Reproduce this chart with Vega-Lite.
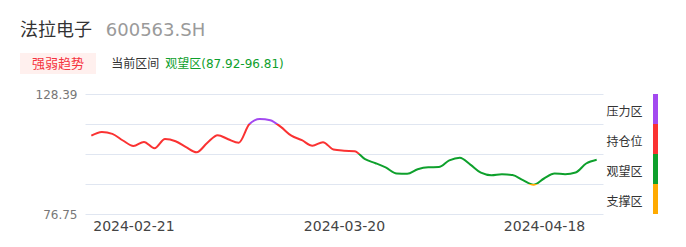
{
  "$schema": "https://vega.github.io/schema/vega-lite/v6.json",
  "padding": {"left": 20, "top": 17, "right": 5, "bottom": 5},
  "background": "white",
  "config": {
    "view": {"stroke": null},
    "font": "DejaVu Sans, Noto Sans CJK SC, sans-serif"
  },
  "spacing": 14,
  "vconcat": [
    {
      "spacing": 12,
      "vconcat": [
        {
          "bounds": "flush",
          "spacing": 14,
          "hconcat": [
            {
              "width": 72, "height": 24,
              "data": {"values": [{"t": "法拉电子"}]},
              "mark": {"type": "text", "fontSize": 18, "color": "#333333", "dx": -65, "dy": 2},
              "encoding": {"text": {"field": "t"}}
            },
            {
              "width": 99, "height": 24,
              "data": {"values": [{"t": "600563.SH"}]},
              "mark": {"type": "text", "fontSize": 18, "color": "#9a9a9a", "dx": -65, "dy": 2},
              "encoding": {"text": {"field": "t"}}
            }
          ]
        },
        {
          "bounds": "flush",
          "spacing": 15,
          "hconcat": [
            {
              "width": 76, "height": 21,
              "data": {"values": [{"t": "强弱趋势"}]},
              "layer": [
                {
                  "mark": {"type": "rect", "color": "#fff0ee", "xOffset": -65, "x2Offset": -65},
                  "encoding": {
                    "x": {"datum": 0, "type": "quantitative", "scale": {"domain": [0, 1]}, "axis": null},
                    "x2": {"datum": 1},
                    "y": {"datum": 0, "type": "quantitative", "scale": {"domain": [0, 1]}, "axis": null},
                    "y2": {"datum": 1}
                  }
                },
                {
                  "mark": {"type": "text", "fontSize": 13, "color": "#f5333f", "dx": -65},
                  "encoding": {"text": {"field": "t"}}
                }
              ]
            },
            {
              "width": 48.6, "height": 21,
              "data": {"values": [{"t": "当前区间"}]},
              "mark": {"type": "text", "fontSize": 12, "color": "#333333", "dx": -65},
              "encoding": {"text": {"field": "t"}}
            },
            {
              "width": 99, "height": 21,
              "data": {"values": [{"t": "观望区(87.92-96.81)"}]},
              "mark": {"type": "text", "fontSize": 12, "color": "#0ea02c", "dx": -65},
              "encoding": {"text": {"field": "t"}}
            }
          ]
        }
      ]
    },
    {
      "spacing": 0,
      "hconcat": [
        {
          "width": 518,
          "height": 120,
          "data": {
            "values": [
              {"date": "2024-02-07", "close": 110.44},
              {"date": "2024-02-08", "close": 112.04},
              {"date": "2024-02-19", "close": 111.22},
              {"date": "2024-02-20", "close": 108.38},
              {"date": "2024-02-21", "close": 106.01},
              {"date": "2024-02-22", "close": 107.78},
              {"date": "2024-02-23", "close": 105.02},
              {"date": "2024-02-26", "close": 109.03},
              {"date": "2024-02-27", "close": 108.08},
              {"date": "2024-02-28", "close": 105.50},
              {"date": "2024-02-29", "close": 103.30},
              {"date": "2024-03-01", "close": 107.30},
              {"date": "2024-03-04", "close": 110.66},
              {"date": "2024-03-05", "close": 108.94},
              {"date": "2024-03-06", "close": 107.43},
              {"date": "2024-03-07", "close": 115.35},
              {"date": "2024-03-08", "close": 117.68},
              {"date": "2024-03-11", "close": 117.12},
              {"date": "2024-03-12", "close": 114.23},
              {"date": "2024-03-13", "close": 110.44},
              {"date": "2024-03-14", "close": 108.51},
              {"date": "2024-03-15", "close": 106.14},
              {"date": "2024-03-18", "close": 107.65},
              {"date": "2024-03-19", "close": 104.51},
              {"date": "2024-03-20", "close": 103.99},
              {"date": "2024-03-21", "close": 103.78},
              {"date": "2024-03-22", "close": 100.33},
              {"date": "2024-03-25", "close": 98.61},
              {"date": "2024-03-26", "close": 96.67},
              {"date": "2024-03-27", "close": 94.18},
              {"date": "2024-03-28", "close": 94.09},
              {"date": "2024-03-29", "close": 96.03},
              {"date": "2024-04-01", "close": 96.85},
              {"date": "2024-04-02", "close": 96.93},
              {"date": "2024-04-03", "close": 99.80},
              {"date": "2024-04-08", "close": 100.98},
              {"date": "2024-04-09", "close": 98.00},
              {"date": "2024-04-10", "close": 94.52},
              {"date": "2024-04-11", "close": 93.41},
              {"date": "2024-04-12", "close": 93.83},
              {"date": "2024-04-15", "close": 93.53},
              {"date": "2024-04-16", "close": 91.30},
              {"date": "2024-04-17", "close": 89.36},
              {"date": "2024-04-18", "close": 92.03},
              {"date": "2024-04-19", "close": 94.18},
              {"date": "2024-04-22", "close": 93.88},
              {"date": "2024-04-23", "close": 94.61},
              {"date": "2024-04-24", "close": 98.48},
              {"date": "2024-04-25", "close": 100.12}
            ]
          },
          "mark": {
            "type": "line",
            "interpolate": "monotone",
            "strokeWidth": 2,
            "color": {
              "gradient": "linear",
              "x1": 0, "y1": 0, "x2": 0, "y2": 1,
              "stops": [
                {"offset": 0, "color": "#a349f0"},
                {"offset": 0.0777, "color": "#a349f0"},
                {"offset": 0.0777, "color": "#fa3232"},
                {"offset": 0.5335, "color": "#fa3232"},
                {"offset": 0.5335, "color": "#0ea02c"},
                {"offset": 0.9894, "color": "#0ea02c"},
                {"offset": 0.9894, "color": "#ffaa00"},
                {"offset": 1, "color": "#ffaa00"}
              ]
            }
          },
          "encoding": {
            "x": {
              "field": "date",
              "type": "ordinal",
              "sort": null,
              "scale": {"type": "point", "padding": 0.6},
              "axis": {
                "values": ["2024-02-21", "2024-03-20", "2024-04-18"],
                "labelAngle": 0,
                "labelFontSize": 14,
                "labelColor": "#444444",
                "domain": false,
                "ticks": false,
                "grid": false,
                "labelPadding": 5,
                "title": null
              }
            },
            "y": {
              "field": "close",
              "type": "quantitative",
              "scale": {"domain": [76.75, 128.39], "nice": false, "zero": false},
              "axis": {
                "values": [76.75, 89.66, 102.57, 115.48, 128.39],
                "labelExpr": "(datum.value == 76.75 || datum.value == 128.39) ? format(datum.value, '.2f') : ''",
                "grid": true,
                "gridColor": "#e0e6f1",
                "gridWidth": 1,
                "domain": false,
                "ticks": false,
                "labelFontSize": 12,
                "labelColor": "#777777",
                "labelPadding": 8,
                "minExtent": 65,
                "title": null
              }
            }
          }
        },
        {
          "width": 5,
          "height": 120,
          "data": {
            "values": [
              {"zone": "压力区", "lo": 115.48, "hi": 128.39},
              {"zone": "持仓位", "lo": 102.57, "hi": 115.48},
              {"zone": "观望区", "lo": 89.66, "hi": 102.57},
              {"zone": "支撑区", "lo": 76.75, "hi": 89.66}
            ]
          },
          "mark": {"type": "rect"},
          "encoding": {
            "x": {"datum": 0, "type": "quantitative", "scale": {"domain": [0, 1]}, "axis": null},
            "x2": {"datum": 1},
            "y": {
              "field": "lo",
              "type": "quantitative",
              "scale": {"domain": [76.75, 128.39], "nice": false, "zero": false},
              "axis": {
                "values": [83.205, 96.115, 109.025, 121.935],
                "labelExpr": "datum.value < 90 ? '支撑区' : datum.value < 103 ? '观望区' : datum.value < 116 ? '持仓位' : '压力区'",
                "domain": false,
                "ticks": false,
                "grid": false,
                "labelFontSize": 12,
                "labelColor": "#333333",
                "labelPadding": 11,
                "labelOffset": 2,
                "minExtent": 49.5,
                "title": null
              }
            },
            "y2": {"field": "hi"},
            "color": {
              "field": "zone",
              "type": "nominal",
              "scale": {
                "domain": ["压力区", "持仓位", "观望区", "支撑区"],
                "range": ["#a349f0", "#fa3232", "#0ea02c", "#ffaa00"]
              },
              "legend": null
            }
          }
        }
      ]
    }
  ]
}
